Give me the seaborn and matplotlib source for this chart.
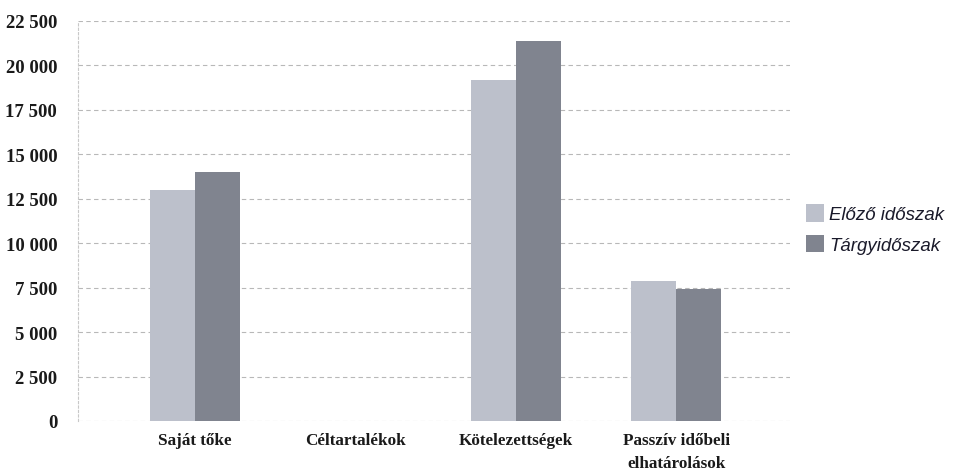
import pandas as pd
import seaborn as sns
import matplotlib.pyplot as plt
from matplotlib.ticker import FuncFormatter

# categories and values
categories = ['Saját tőke', 'Céltartalékok', 'Kötelezettségek',
              'Passzív időbeli\nelhatárolások']
series = ['Előző időszak', 'Tárgyidőszak']
prev_values = [13000, 0, 19200, 7850]
curr_values = [14000, 0, 21400, 7400]
y_ticks = [0, 2500, 5000, 7500, 10000, 12500, 15000, 17500, 20000, 22500]

df = pd.DataFrame({
    'kategoria': categories * 2,
    'idoszak': [series[0]] * len(categories) + [series[1]] * len(categories),
    'ertek': prev_values + curr_values,
})

sns.set_style('white')
fig = plt.figure(figsize=(9.6, 4.77), dpi=100)
ax = fig.add_axes([78 / 960, 55 / 477, 712 / 960, 400 / 477])

ax = sns.barplot(data=df, x='kategoria', y='ertek', hue='idoszak',
                 palette=['#bcc0cb', '#80848f'], width=0.56,
                 saturation=1, linewidth=0, ax=ax, legend=True)

ax.set_ylim(0, 22500)
ax.set_xlim(-0.73, 3.71)
ax.set_yticks(y_ticks)
ax.yaxis.set_major_formatter(FuncFormatter(lambda v, p: f'{int(v):,}'.replace(',', ' ')))
ax.grid(axis='y', color='#b8b8b8', linestyle=(0, (4, 3)), linewidth=0.8)
ax.set_axisbelow(True)
for s in ['top', 'right', 'bottom']:
    ax.spines[s].set_visible(False)
ax.spines['left'].set_color('#c8c8c8')
ax.spines['left'].set_linestyle((0, (2, 2)))
ax.set_xlabel('')
ax.set_ylabel('')
ax.tick_params(axis='y', length=0, pad=15)
ax.tick_params(axis='x', length=0, pad=8)

for lbl in ax.get_yticklabels():
    lbl.set_fontfamily('Liberation Serif')
    lbl.set_fontweight('bold')
    lbl.set_fontsize(13.5)
    lbl.set_color('#1a1a1a')
for lbl in ax.get_xticklabels():
    lbl.set_fontfamily('Liberation Serif')
    lbl.set_fontweight('bold')
    lbl.set_fontsize(12.3)
    lbl.set_color('#1a1a1a')
    lbl.set_linespacing(1.55)
    lbl.set_verticalalignment('top')

leg = ax.legend(loc='center left', bbox_to_anchor=(1.012, 0.48), frameon=False,
                borderaxespad=0, handlelength=0.95, handleheight=1.1,
                handletextpad=0.3, labelspacing=0.6,
                prop={'family': 'Liberation Sans', 'style': 'italic', 'size': 13.4})
for t in leg.get_texts():
    t.set_color('#1a1a2a')

fig.savefig('out.png', dpi=100)
